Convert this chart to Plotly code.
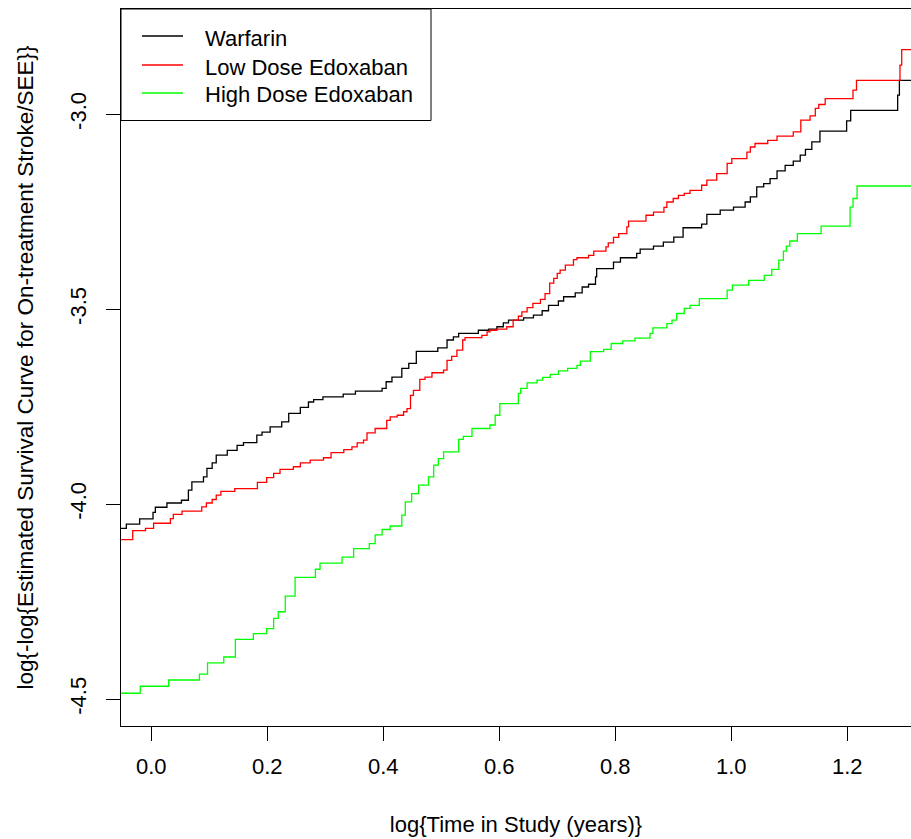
import plotly.graph_objects as go

# Complementary log-log survival curves, step functions (x: log time, y: log(-log S))
warfarin_x = [-0.052, -0.043, -0.020, 0.003, 0.007, 0.027, 0.052, 0.064, 0.070, 0.090,
              0.096, 0.105, 0.112, 0.131, 0.148, 0.159, 0.182, 0.191, 0.205, 0.225,
              0.237, 0.257, 0.271, 0.280, 0.296, 0.331, 0.352, 0.398, 0.405, 0.415,
              0.432, 0.444, 0.457, 0.494, 0.510, 0.521, 0.530, 0.564, 0.582, 0.596,
              0.607, 0.616, 0.642, 0.659, 0.674, 0.685, 0.702, 0.711, 0.731, 0.743,
              0.754, 0.766, 0.768, 0.797, 0.809, 0.837, 0.843, 0.866, 0.883, 0.901,
              0.917, 0.949, 0.958, 0.981, 1.004, 1.024, 1.033, 1.044, 1.056, 1.067,
              1.079, 1.093, 1.107, 1.119, 1.128, 1.139, 1.153, 1.199, 1.206, 1.287,
              1.290, 1.310]
warfarin_y = [-4.062, -4.051, -4.038, -4.021, -4.008, -3.997, -3.990, -3.964, -3.943, -3.930,
              -3.908, -3.894, -3.874, -3.862, -3.849, -3.842, -3.823, -3.815, -3.802, -3.789,
              -3.767, -3.752, -3.738, -3.732, -3.725, -3.718, -3.710, -3.703, -3.686, -3.674,
              -3.652, -3.639, -3.608, -3.599, -3.579, -3.571, -3.562, -3.554, -3.551, -3.545,
              -3.535, -3.528, -3.522, -3.515, -3.504, -3.490, -3.479, -3.468, -3.458, -3.443,
              -3.436, -3.417, -3.396, -3.379, -3.368, -3.357, -3.346, -3.338, -3.328, -3.315,
              -3.291, -3.282, -3.257, -3.246, -3.238, -3.225, -3.212, -3.186, -3.178, -3.165,
              -3.145, -3.131, -3.120, -3.105, -3.090, -3.071, -3.043, -3.017, -2.990, -2.951,
              -2.913, -2.913]

low_dose_x = [-0.052, -0.032, -0.010, 0.004, 0.033, 0.038, 0.053, 0.087, 0.095, 0.105,
              0.112, 0.120, 0.144, 0.183, 0.199, 0.211, 0.222, 0.245, 0.257, 0.274,
              0.297, 0.310, 0.332, 0.346, 0.355, 0.366, 0.372, 0.386, 0.406, 0.412,
              0.424, 0.435, 0.441, 0.447, 0.452, 0.463, 0.472, 0.484, 0.504, 0.510,
              0.518, 0.527, 0.537, 0.541, 0.570, 0.579, 0.584, 0.596, 0.613, 0.624,
              0.633, 0.639, 0.648, 0.658, 0.671, 0.679, 0.687, 0.694, 0.700, 0.705,
              0.714, 0.728, 0.734, 0.754, 0.763, 0.784, 0.788, 0.797, 0.806, 0.820,
              0.823, 0.853, 0.866, 0.884, 0.889, 0.900, 0.909, 0.919, 0.929, 0.949,
              0.958, 0.975, 0.993, 1.001, 1.027, 1.033, 1.041, 1.063, 1.079, 1.107,
              1.120, 1.136, 1.145, 1.151, 1.162, 1.210, 1.216, 1.291, 1.294, 1.310]
low_dose_y = [-4.091, -4.068, -4.062, -4.049, -4.037, -4.026, -4.018, -4.007, -3.997, -3.988,
              -3.977, -3.967, -3.960, -3.944, -3.932, -3.921, -3.911, -3.904, -3.894, -3.887,
              -3.881, -3.868, -3.860, -3.853, -3.843, -3.836, -3.817, -3.806, -3.785, -3.776,
              -3.772, -3.763, -3.755, -3.721, -3.708, -3.680, -3.674, -3.663, -3.656, -3.631,
              -3.621, -3.605, -3.579, -3.573, -3.567, -3.558, -3.554, -3.551, -3.545, -3.528,
              -3.518, -3.507, -3.496, -3.485, -3.475, -3.460, -3.433, -3.421, -3.408, -3.400,
              -3.387, -3.373, -3.368, -3.362, -3.351, -3.340, -3.330, -3.316, -3.306, -3.289,
              -3.274, -3.259, -3.251, -3.239, -3.225, -3.216, -3.208, -3.203, -3.195, -3.182,
              -3.169, -3.152, -3.126, -3.114, -3.097, -3.084, -3.075, -3.067, -3.056, -3.045,
              -3.015, -3.004, -2.985, -2.975, -2.960, -2.938, -2.913, -2.874, -2.834, -2.834]

high_dose_x = [-0.052, -0.019, 0.030, 0.083, 0.097, 0.125, 0.145, 0.176, 0.199, 0.211,
               0.219, 0.231, 0.248, 0.283, 0.291, 0.329, 0.349, 0.376, 0.386, 0.398,
               0.412, 0.432, 0.438, 0.449, 0.461, 0.478, 0.487, 0.495, 0.504, 0.530,
               0.538, 0.553, 0.584, 0.593, 0.601, 0.633, 0.637, 0.648, 0.665, 0.675,
               0.688, 0.702, 0.718, 0.734, 0.740, 0.757, 0.780, 0.793, 0.813, 0.834,
               0.860, 0.865, 0.889, 0.898, 0.906, 0.919, 0.929, 0.945, 0.993, 1.002,
               1.030, 1.057, 1.070, 1.082, 1.090, 1.095, 1.101, 1.114, 1.155, 1.205,
               1.210, 1.217, 1.310]
high_dose_y = [-4.485, -4.467, -4.451, -4.436, -4.407, -4.392, -4.347, -4.332, -4.319, -4.293,
               -4.276, -4.236, -4.188, -4.167, -4.151, -4.136, -4.114, -4.101, -4.079, -4.065,
               -4.056, -4.028, -3.994, -3.973, -3.951, -3.930, -3.900, -3.883, -3.866, -3.834,
               -3.826, -3.806, -3.797, -3.772, -3.742, -3.716, -3.703, -3.689, -3.682, -3.675,
               -3.667, -3.658, -3.652, -3.644, -3.633, -3.609, -3.603, -3.588, -3.581, -3.574,
               -3.562, -3.548, -3.537, -3.528, -3.511, -3.498, -3.490, -3.473, -3.451, -3.438,
               -3.426, -3.413, -3.398, -3.374, -3.351, -3.338, -3.325, -3.306, -3.287, -3.238,
               -3.216, -3.184, -3.184]

x_ticks = [0.0, 0.2, 0.4, 0.6, 0.8, 1.0, 1.2]
x_tick_labels = ["0.0", "0.2", "0.4", "0.6", "0.8", "1.0", "1.2"]
y_ticks = [-4.5, -4.0, -3.5, -3.0]
y_tick_labels = ["-4.5", "-4.0", "-3.5", "-3.0"]

series_names = ["Warfarin", "Low Dose Edoxaban", "High Dose Edoxaban"]
series_x = [warfarin_x, low_dose_x, high_dose_x]
series_y = [warfarin_y, low_dose_y, high_dose_y]
series_colors = ["#000000", "#FF0000", "#00FF00"]

FONT = "Liberation Sans, Arial, sans-serif"
W, H = 911, 839
M_L, M_R, M_T, M_B = 121, 0, 9, 113
PLOT_W = W - M_L - M_R
PLOT_H = H - M_T - M_B


def px_to_paper_x(px):
    return (px - M_L) / PLOT_W


def px_to_paper_y(py):
    return 1 - (py - M_T) / PLOT_H


fig = go.Figure()
for name, xs, ys, color in zip(series_names, series_x, series_y, series_colors):
    fig.add_trace(go.Scatter(
        x=xs, y=ys, name=name, mode="lines",
        line=dict(color=color, width=1.3, shape="hv"),
        showlegend=False,
    ))

# Boxed key in the top-left corner of the panel
shapes = [dict(
    type="rect", xref="paper", yref="paper", layer="above",
    x0=0, x1=px_to_paper_x(431), y0=px_to_paper_y(120.5), y1=1,
    line=dict(color="#000000", width=1), fillcolor="white",
)]
annotations = []
key_rows = [36, 65, 93]
for name, color, row in zip(series_names, series_colors, key_rows):
    yy = px_to_paper_y(row)
    shapes.append(dict(
        type="line", xref="paper", yref="paper", layer="above",
        x0=px_to_paper_x(142), x1=px_to_paper_x(183), y0=yy, y1=yy,
        line=dict(color=color, width=1.3),
    ))
    annotations.append(dict(
        xref="paper", yref="paper", x=px_to_paper_x(203), y=px_to_paper_y(row + 2),
        xanchor="left", yanchor="middle", showarrow=False,
        text=name, font=dict(family=FONT, size=22, color="#000000"),
    ))

fig.update_layout(
    width=W, height=H,
    margin=dict(l=M_L, r=M_R, t=M_T, b=M_B),
    paper_bgcolor="white", plot_bgcolor="white",
    font=dict(family=FONT, size=22, color="#000000"),
    showlegend=False,
    shapes=shapes,
    annotations=annotations,
)

fig.update_xaxes(
    range=[-0.0522, 1.310],
    tickvals=x_ticks, ticktext=x_tick_labels,
    ticks="outside", ticklen=14, tickwidth=1, tickcolor="#000000",
    ticklabelstandoff=7,
    showline=True, linecolor="#000000", linewidth=1, mirror=True,
    showgrid=False, zeroline=False,
    tickfont=dict(family=FONT, size=22),
    title=dict(text="log{Time in Study (years)}", font=dict(family=FONT, size=22), standoff=38),
)
fig.update_yaxes(
    range=[-4.569, -2.730],
    tickvals=y_ticks, ticktext=y_tick_labels, tickangle=-90,
    ticks="outside", ticklen=14, tickwidth=1, tickcolor="#000000",
    ticklabelstandoff=11,
    showline=True, linecolor="#000000", linewidth=1, mirror=False,
    showgrid=False, zeroline=False,
    tickfont=dict(family=FONT, size=22),
    title=dict(text="log{-log{Estimated Survival Curve for On-treatment Stroke/SEE}}",
               font=dict(family=FONT, size=22.5), standoff=26),
)

fig.write_html("out.html")
